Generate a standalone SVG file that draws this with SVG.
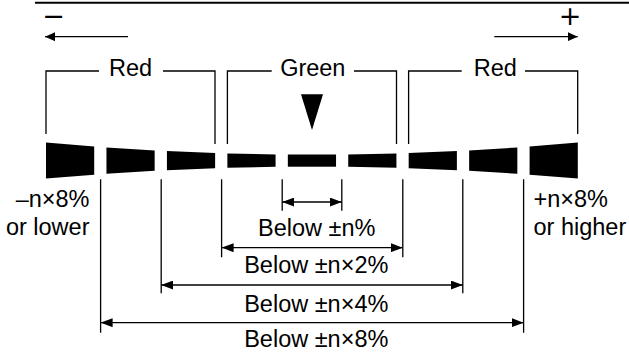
<svg xmlns="http://www.w3.org/2000/svg" width="629" height="353" viewBox="0 0 629 353">
<style>
  text { font-family: "Liberation Sans", Arial, sans-serif; font-size: 23.5px; fill: #000; }
  .big { font-family: "DejaVu Sans", sans-serif; font-size: 27px; }
  .ln { stroke: #000; stroke-width: 1.3; fill: none; }
  .seg { fill: #000; }
</style>
<defs>
  <marker id="ahS" viewBox="0 0 10 9" refX="10" refY="4.5" markerWidth="10" markerHeight="9" markerUnits="userSpaceOnUse" orient="auto-start-reverse">
    <path d="M0,0 L10,4.5 L0,9 Z" fill="#000"/>
  </marker>
  <marker id="ahD" viewBox="0 0 12 9" refX="12" refY="4.5" markerWidth="12" markerHeight="9" markerUnits="userSpaceOnUse" orient="auto-start-reverse">
    <path d="M0,0 L12,4.5 L0,9 Z" fill="#000"/>
  </marker>
</defs>

<line x1="35" y1="2.7" x2="629" y2="2.7" stroke="#000" stroke-width="2"/>

<g id="direction">
  <text class="big" x="53.5" y="25.3" text-anchor="middle">−</text>
  <text class="big" x="570" y="25.3" text-anchor="middle">+</text>
  <line class="ln" x1="128" y1="36.7" x2="45" y2="36.7" marker-end="url(#ahS)"/>
  <line class="ln" x1="494.3" y1="36.7" x2="577.7" y2="36.7" marker-end="url(#ahS)"/>
</g>

<g id="bracket-red-left">
  <path class="ln" d="M46,134 V71 H99 M163,71 H215 V144"/>
  <text x="130.5" y="76" text-anchor="middle">Red</text>
</g>
<g id="bracket-green">
  <path class="ln" d="M227.4,144 V71 H271.7 M354,71 H396.5 V144"/>
  <text x="312.8" y="76" text-anchor="middle">Green</text>
</g>
<g id="bracket-red-right">
  <path class="ln" d="M408.6,144 V71 H461.7 M525,71 H577.7 V134"/>
  <text x="495.3" y="76" text-anchor="middle">Red</text>
</g>

<g id="pointer">
  <polygon points="301,94.3 323,94.3 312,130" fill="#000"/>
</g>

<g id="meter">
  <polygon class="seg" points="46,142.6 94.2,146.54 94.2,174.66 46,178.6"/>
  <polygon class="seg" points="106.46,147.43 154.66,150.4 154.66,170.8 106.46,173.77"/>
  <polygon class="seg" points="166.92,151.03 215.12,153.01 215.12,168.19 166.92,170.17"/>
  <polygon class="seg" points="227.38,153.39 275.58,154.38 275.58,166.82 227.38,167.81"/>
  <rect class="seg" x="287.84" y="154.5" width="48.2" height="12.2"/>
  <polygon class="seg" points="348.22,154.38 396.42,153.39 396.42,167.81 348.22,166.82"/>
  <polygon class="seg" points="408.68,153.01 456.88,151.03 456.88,170.17 408.68,168.19"/>
  <polygon class="seg" points="469.14,150.4 517.34,147.43 517.34,173.77 469.14,170.8"/>
  <polygon class="seg" points="529.6,146.54 577.8,142.6 577.8,178.6 529.6,174.66"/>
</g>

<g id="label-low">
  <text x="89.5" y="206.7" text-anchor="end">–n×8%</text>
  <text x="89.5" y="235" text-anchor="end">or lower</text>
</g>
<g id="label-high">
  <text x="533.5" y="206.7">+n×8%</text>
  <text x="533.5" y="235">or higher</text>
</g>

<g id="connectors">
  <path class="ln" d="M282.2,179.3 V210.7 M341.8,179.3 V210.7"/>
  <line class="ln" x1="282.2" y1="202" x2="341.8" y2="202" marker-start="url(#ahD)" marker-end="url(#ahD)"/>
  <path class="ln" d="M221.6,179.3 V257.3 M402.8,179.3 V257.3"/>
  <line class="ln" x1="221.6" y1="247.7" x2="402.8" y2="247.7" marker-start="url(#ahD)" marker-end="url(#ahD)"/>
  <path class="ln" d="M161.2,179.3 V293.3 M462.8,179.3 V293.3"/>
  <line class="ln" x1="161.2" y1="285" x2="462.8" y2="285" marker-start="url(#ahD)" marker-end="url(#ahD)"/>
  <path class="ln" d="M100.6,179.3 V332.7 M523.6,179.3 V332.7"/>
  <line class="ln" x1="100.6" y1="322.7" x2="523.6" y2="322.7" marker-start="url(#ahD)" marker-end="url(#ahD)"/>
</g>

<g id="dimension-labels">
  <text x="316.7" y="236" text-anchor="middle">Below ±n%</text>
  <text x="316.3" y="273.3" text-anchor="middle">Below ±n×2%</text>
  <text x="316.3" y="311.7" text-anchor="middle">Below ±n×4%</text>
  <text x="316.3" y="347.3" text-anchor="middle">Below ±n×8%</text>
</g>
</svg>
